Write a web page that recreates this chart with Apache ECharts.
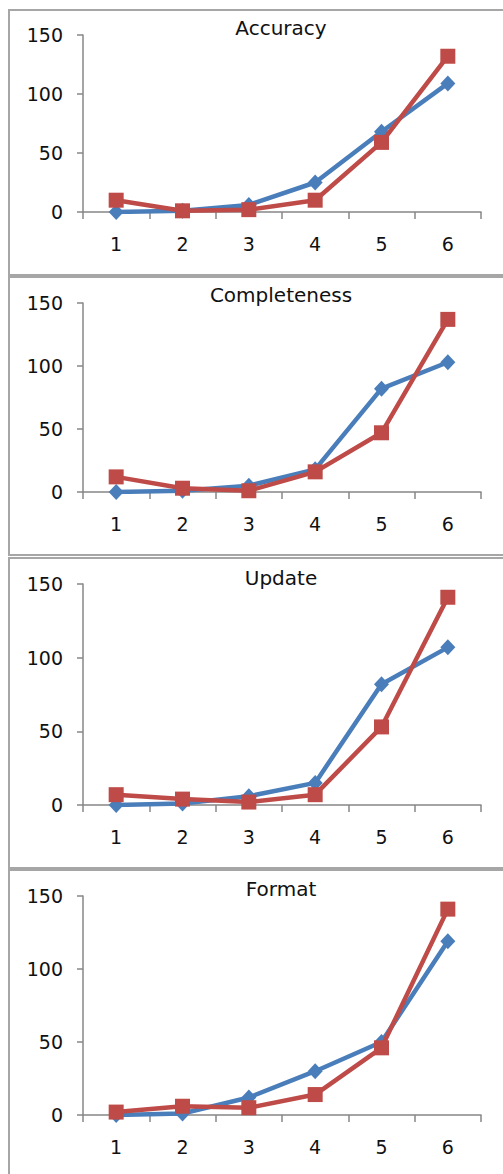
<!DOCTYPE html>
<html>
<head>
<meta charset="utf-8">
<script src="https://cdn.jsdelivr.net/npm/echarts@6/dist/echarts.min.js"></script>
<style>
html,body{margin:0;padding:0;background:#fff;}
#c{width:503px;height:1174px;}
</style>
</head>
<body>
<div id="c"></div>
<script>
const categories = ['1', '2', '3', '4', '5', '6'];
const titles = ['Accuracy', 'Completeness', 'Update', 'Format'];
const yTicks = [0, 50, 100, 150];

const accuracyBlue = [0, 1, 6, 25, 68, 109];
const accuracyRed = [10, 1, 2, 10, 59, 132];
const completenessBlue = [0, 1, 5, 18, 82, 103];
const completenessRed = [12, 3, 1, 16, 47, 137];
const updateBlue = [0, 1, 6, 15, 82, 107];
const updateRed = [7, 4, 2, 7, 53, 141];
const formatBlue = [0, 1, 12, 30, 50, 119];
const formatRed = [2, 6, 5, 14, 46, 141];

const blueSets = [accuracyBlue, completenessBlue, updateBlue, formatBlue];
const redSets = [accuracyRed, completenessRed, updateRed, formatRed];

// layout
const panels = [
  {top: 10, h: 265, gTop: 35, gH: 177, tY: 28},
  {top: 277, h: 278, gTop: 303, gH: 189, tY: 295},
  {top: 558, h: 310, gTop: 584, gH: 221, tY: 578},
  {top: 870, h: 330, gTop: 896, gH: 219, tY: 889}
];
const gLeft = 83, gWidth = 398;
const FONT = 'DejaVu Sans';
const AXIS = '#878787';

const grid = [], xAxis = [], yAxis = [], series = [], graphic = [];
panels.forEach((p, i) => {
  graphic.push({
    type: 'rect', z: -1, silent: true,
    shape: {x: 9, y: p.top, width: 520, height: p.h},
    style: {fill: 'none', stroke: '#a6a6a6', lineWidth: 2}
  });
  graphic.push({
    type: 'text', silent: true,
    x: gLeft + gWidth / 2 - 1, y: p.tY,
    style: {text: titles[i], font: '20px "DejaVu Sans"', fill: '#111111', align: 'center', verticalAlign: 'middle'}
  });
  grid.push({left: gLeft, top: p.gTop, width: gWidth, height: p.gH, containLabel: false});
  xAxis.push({
    type: 'category', gridIndex: i, data: categories, boundaryGap: true,
    axisLine: {show: true, lineStyle: {color: AXIS, width: 1.5}},
    axisTick: {show: true, interval: 0, length: 7, lineStyle: {color: AXIS, width: 1.5}},
    axisLabel: {fontFamily: FONT, fontSize: 19, color: '#111111', margin: 22},
    splitLine: {show: false}
  });
  yAxis.push({
    type: 'value', gridIndex: i, min: yTicks[0], max: yTicks[yTicks.length - 1], interval: 50,
    axisLine: {show: true, lineStyle: {color: AXIS, width: 1.5}},
    axisTick: {show: true, length: 6, lineStyle: {color: AXIS, width: 1.5}},
    axisLabel: {fontFamily: FONT, fontSize: 19, color: '#111111', margin: 20},
    splitLine: {show: false}
  });
  series.push({
    type: 'line', xAxisIndex: i, yAxisIndex: i, data: blueSets[i], z: 2,
    symbol: 'diamond', symbolSize: [15, 16], showAllSymbol: true,
    lineStyle: {color: '#4a7ebb', width: 4.5},
    itemStyle: {color: '#4a7ebb'}
  });
  series.push({
    type: 'line', xAxisIndex: i, yAxisIndex: i, data: redSets[i], z: 3,
    symbol: 'rect', symbolSize: 15, showAllSymbol: true,
    lineStyle: {color: '#be4b48', width: 4.5},
    itemStyle: {color: '#be4b48'}
  });
});

const chart = echarts.init(document.getElementById('c'), null, {renderer: 'svg'});
chart.setOption({
  backgroundColor: '#ffffff',
  animation: false,
  grid, xAxis, yAxis, series, graphic
});
</script>
</body>
</html>
